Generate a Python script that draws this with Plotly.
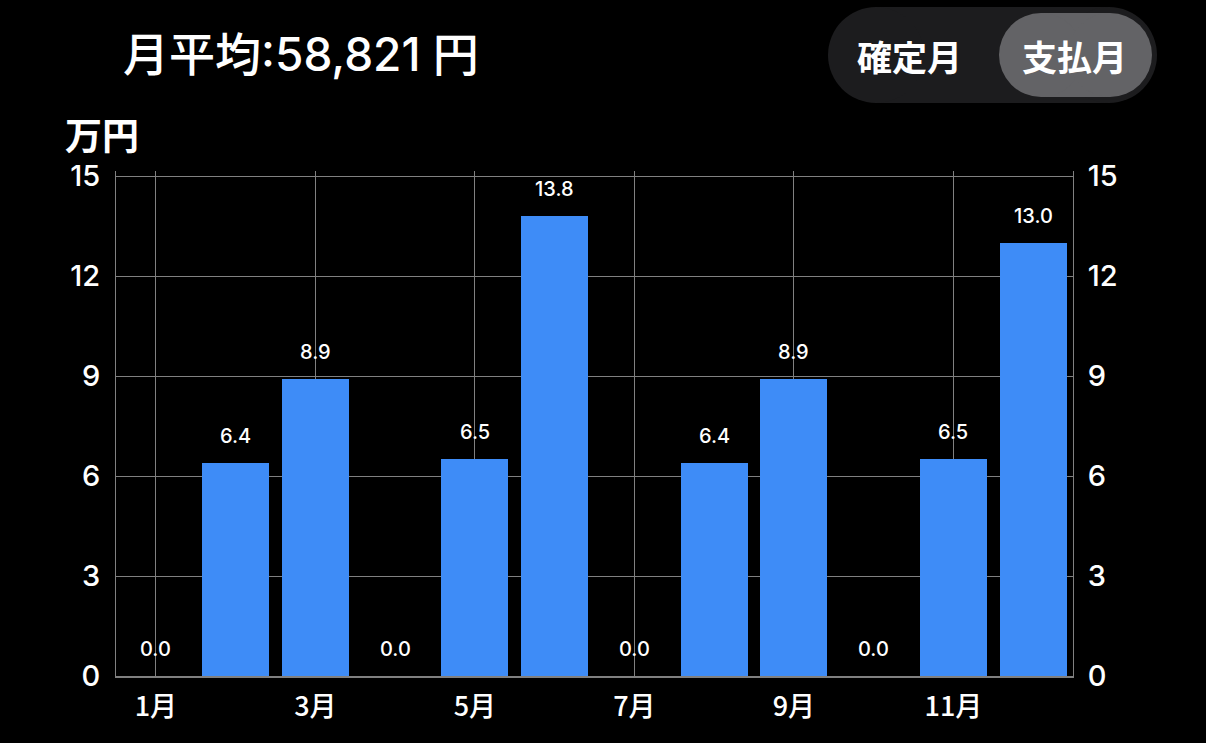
import plotly.graph_objects as go

months = list(range(1, 13))
values = [0.0, 6.4, 8.9, 0.0, 6.5, 13.8, 0.0, 6.4, 8.9, 0.0, 6.5, 13.0]
tick_months = [1, 3, 5, 7, 9, 11]
tick_labels = ["1月", "3月", "5月", "7月", "9月", "11月"]
y_ticks = [0, 3, 6, 9, 12, 15]
title_text = "月平均:58,821 円"
unit_text = "万円"
seg_left = "確定月"
seg_right = "支払月"

W, H = 1206, 743
L, R, T, B = 116, 133, 171, 67
PW, PH = W - L - R, H - T - B


def px(x):
    return (x - L) / PW


def py(y):
    return (H - B - y) / PH


FONT = "Inter, 'Noto Sans CJK JP', sans-serif"
JFONT = "'Noto Sans CJK JP', Inter, sans-serif"
GRID = "#808080"

fig = go.Figure()
fig.add_trace(go.Bar(x=months, y=values, marker_color="#3e8cf7", marker_line_width=0,
                     width=0.84, hoverinfo="skip", showlegend=False))
fig.add_trace(go.Scatter(x=months, y=values, yaxis="y2", mode="markers",
                         marker_opacity=0, hoverinfo="skip", showlegend=False))

annotations = []
for m, v in zip(months, values):
    annotations.append(dict(x=m, y=v, xref="x", yref="y", text=f"{v:.1f}",
                            showarrow=False, yanchor="bottom", yshift=13,
                            font=dict(family=FONT, size=20, color="white", weight=500)))

annotations.append(dict(x=px(121), y=py(54), xref="paper", yref="paper", text=title_text,
                        showarrow=False, xanchor="left", yanchor="middle",
                        font=dict(family=FONT, size=46, color="white", weight=500)))
annotations.append(dict(x=px(63), y=py(134), xref="paper", yref="paper", text=unit_text,
                        showarrow=False, xanchor="left", yanchor="middle",
                        font=dict(family=JFONT, size=37, color="white", weight=600)))
annotations.append(dict(x=px(909), y=py(55), xref="paper", yref="paper", text=seg_left,
                        showarrow=False, xanchor="center", yanchor="middle",
                        font=dict(family=JFONT, size=35, color="white", weight=600)))
annotations.append(dict(x=px(1074), y=py(55), xref="paper", yref="paper", text=seg_right,
                        showarrow=False, xanchor="center", yanchor="middle",
                        font=dict(family=JFONT, size=35, color="white", weight=600)))


def pill(x0, x1, y0, y1, color):
    r = (y1 - y0) / 2
    shapes = [
        dict(type="rect", xref="paper", yref="paper", x0=px(x0 + r), x1=px(x1 - r),
             y0=py(y1), y1=py(y0), fillcolor=color, line_width=0, layer="below"),
        dict(type="circle", xref="paper", yref="paper", x0=px(x0), x1=px(x0 + 2 * r),
             y0=py(y1), y1=py(y0), fillcolor=color, line_width=0, layer="below"),
        dict(type="circle", xref="paper", yref="paper", x0=px(x1 - 2 * r), x1=px(x1),
             y0=py(y1), y1=py(y0), fillcolor=color, line_width=0, layer="below"),
    ]
    return shapes


shapes = pill(828, 1157, 7, 103, "#1c1c1e") + pill(999, 1152, 13, 97, "#636366")

axis_font = dict(family=FONT, size=29, color="white", weight=500)
fig.update_layout(
    width=W, height=H,
    margin=dict(l=L, r=R, t=T, b=B, pad=0),
    paper_bgcolor="black", plot_bgcolor="black",
    bargap=0,
    xaxis=dict(range=[0.5, 12.5], tickvals=tick_months, ticktext=tick_labels,
               showgrid=True, gridcolor=GRID, gridwidth=1, zeroline=False,
               showline=True, linecolor=GRID, linewidth=1.5, ticks="",
               ticklabelstandoff=6,
               tickfont=dict(family=JFONT, size=27, color="white", weight=500)),
    yaxis=dict(range=[0, 15.15], tickvals=y_ticks, showgrid=True, gridcolor=GRID,
               gridwidth=1, zeroline=False, showline=True, linecolor=GRID, linewidth=1,
               ticks="", ticklabelstandoff=9, tickfont=axis_font),
    yaxis2=dict(range=[0, 15.15], tickvals=y_ticks, overlaying="y", side="right",
                showgrid=False, zeroline=False, showline=True, linecolor=GRID, linewidth=1,
                ticks="", ticklabelstandoff=8, tickfont=axis_font),
    annotations=annotations,
    shapes=shapes,
)

fig.write_html("out.html")
